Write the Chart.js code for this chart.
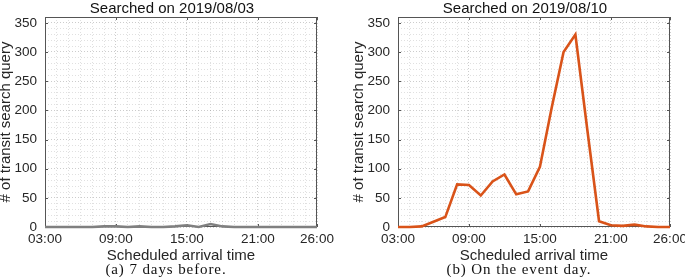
<!DOCTYPE html>
<html>
<head>
<meta charset="utf-8">
<script src="https://cdn.jsdelivr.net/npm/chart.js@4"></script>
<style>
  html, body { margin: 0; padding: 0; background: #fff; overflow: hidden; }
  body { width: 685px; height: 277px; position: relative; }
  canvas { position: absolute; top: 0; }
  .ttl { position: absolute; top: 0; font: 15px/15px "Liberation Sans", Arial, sans-serif; color: #111; white-space: nowrap; transform: translateX(-50%); }
  .cap { position: absolute; top: 262px; font: 15px/15px "Liberation Serif", serif; letter-spacing: 0.9px; color: #111; white-space: nowrap; transform: translateX(-50%); }
</style>
</head>
<body>
<canvas id="before" width="344" height="277" style="left:0"></canvas>
<canvas id="event" width="344" height="277" style="left:353px"></canvas>
<div class="ttl" style="left:172px">Searched on 2019/08/03</div>
<div class="ttl" style="left:525px">Searched on 2019/08/10</div>
<div class="cap" style="left:166px">(a) 7 days before.</div>
<div class="cap" style="left:519px">(b) On the event day.</div>

<script>
// arrival hour (03:00 .. 26:00)
const hours = [3, 4, 5, 6, 7, 8, 9, 10, 11, 12, 13, 14, 15, 16, 17, 18, 19, 20, 21, 22, 23, 24, 25, 26];

// queries searched 7 days before
const before = [0, 0, 0, 0, 0, 1, 1, 0, 1, 0, 0, 1, 3, 0, 5, 1, 0, 0, 0, 0, 0, 0, 0, 0];

// queries searched on the event day
const eventDay = [0, 0, 1, 9, 17, 73, 72, 54, 78, 90, 56, 61, 103, 205, 300, 330, 168, 10, 3, 2, 4, 1, 0, 0];

const tickHours = [3, 9, 15, 21, 26];
const tickLabels = ["03:00", "09:00", "15:00", "21:00", "26:00"];
const yTicks = [0, 50, 100, 150, 200, 250, 300, 350];

const SANS = '"Liberation Sans", Arial, sans-serif';

// box round the plot with inward ticks, like matlab
const framePlugin = {
  id: "frame",
  beforeDatasetsDraw(chart) {
    const { ctx, chartArea: a, scales: { x, y } } = chart;
    ctx.save();
    ctx.strokeStyle = "#555";
    ctx.lineWidth = 1;
    ctx.strokeRect(a.left + 0.5, a.top + 0.5, a.width - 1, a.height - 1);
    ctx.beginPath();
    tickHours.forEach(h => {
      const px = Math.round(x.getPixelForValue(h)) + 0.5;
      ctx.moveTo(px, a.bottom); ctx.lineTo(px, a.bottom - 3);
      ctx.moveTo(px, a.top); ctx.lineTo(px, a.top + 3);
    });
    yTicks.forEach(v => {
      const py = Math.round(y.getPixelForValue(v)) + 0.5;
      ctx.moveTo(a.left, py); ctx.lineTo(a.left + 3, py);
      ctx.moveTo(a.right, py); ctx.lineTo(a.right - 3, py);
    });
    ctx.stroke();
    ctx.restore();
  }
};

function dibujar(id, values, color) {
  new Chart(document.getElementById(id), {
    type: "line",
    data: {
      datasets: [{
        data: hours.map((h, i) => ({ x: h, y: values[i] })),
        borderColor: color,
        borderWidth: 2.6,
        pointRadius: 0,
        tension: 0,
        clip: false
      }]
    },
    options: {
      responsive: false,
      animation: false,
      devicePixelRatio: 1,
      layout: { padding: { left: 0, right: 27, top: 17, bottom: 0 } },
      plugins: { legend: { display: false }, tooltip: { enabled: false } },
      scales: {
        x: {
          type: "linear",
          min: 3,
          max: 26,
          afterFit: s => { s.height = 50; },
          border: { display: false, dash: [1, 2] },
          grid: {
            drawTicks: false,
            color: c => tickHours.includes(c.tick.value) ? "rgba(0,0,0,0.2)" : "rgba(0,0,0,0.12)"
          },
          ticks: {
            stepSize: 1,
            autoSkip: false,
            maxRotation: 0,
            padding: 4,
            color: "#262626",
            font: { family: SANS, size: 13.5 },
            callback: v => {
              const k = tickHours.indexOf(v);
              return k >= 0 ? tickLabels[k] : "";
            }
          },
          title: {
            display: true,
            text: "Scheduled arrival time",
            color: "#262626",
            font: { family: SANS, size: 15 },
            padding: { top: 0, bottom: 12 }
          }
        },
        y: {
          min: 0,
          max: 360,
          afterFit: s => { s.width = 45; },
          border: { display: false, dash: [1, 2] },
          grid: {
            drawTicks: false,
            color: c => c.tick.value % 50 === 0 ? "rgba(0,0,0,0.2)" : "rgba(0,0,0,0.12)"
          },
          ticks: {
            stepSize: 10,
            autoSkip: false,
            padding: 8,
            color: "#262626",
            font: { family: SANS, size: 13.5 },
            callback: v => yTicks.includes(v) ? String(v) : ""
          },
          title: {
            display: true,
            text: "# of transit search query",
            color: "#262626",
            font: { family: SANS, size: 15, lineHeight: 0.8 },
            padding: 0
          }
        }
      }
    },
    plugins: [framePlugin]
  });
}

dibujar("before", before, "#808080");
dibujar("event", eventDay, "#D95319");
</script>
</body>
</html>
